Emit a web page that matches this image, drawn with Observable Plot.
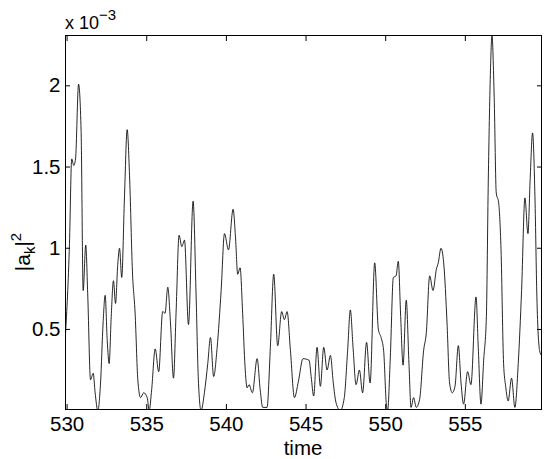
<!DOCTYPE html>
<html>
<head>
<meta charset="utf-8">
<script src="https://cdn.jsdelivr.net/npm/d3@7"></script>
<script src="https://cdn.jsdelivr.net/npm/@observablehq/plot@0.6"></script>
<style>
  html, body { margin: 0; padding: 0; background: #fff; }
</style>
</head>
<body>
<div id="chart"></div>
<script>
// time values
const time = [
  529.90, 530.15, 530.29, 530.42, 530.53, 530.72, 530.88, 531.01, 531.17, 531.30,
  531.47, 531.64, 531.76, 531.93, 532.10, 532.26, 532.39, 532.52, 532.64, 532.77,
  532.91, 533.04, 533.18, 533.29, 533.43, 533.60, 533.77, 533.93, 534.10, 534.27,
  534.44, 534.61, 534.81, 535.03, 535.15, 535.31, 535.53, 535.75, 536.00, 536.15,
  536.32, 536.49, 536.68, 536.84, 537.03, 537.20, 537.37, 537.62, 537.91, 538.10,
  538.24, 538.41, 538.62, 538.83, 539.00, 539.20, 539.42, 539.67, 539.88, 540.13,
  540.42, 540.57, 540.71, 540.86, 541.02, 541.17, 541.30, 541.42, 541.63, 541.93,
  542.12, 542.28, 542.55, 542.76, 542.97, 543.22, 543.47, 543.64, 543.81, 544.02,
  544.27, 544.52, 544.81, 545.19, 545.32, 545.48, 545.69, 545.90, 546.11, 546.32,
  546.53, 546.71, 546.88, 547.15, 547.40, 547.61, 547.78, 547.95, 548.14, 548.35,
  548.55, 548.80, 549.02, 549.31, 549.54, 549.71, 549.87, 550.04, 550.12, 550.29,
  550.48, 550.65, 550.79, 550.94, 551.09, 551.29, 551.46, 551.59, 551.75, 551.92,
  552.13, 552.38, 552.55, 552.76, 552.97, 553.18, 553.30, 553.47, 553.64, 553.85,
  554.01, 554.18, 554.35, 554.56, 554.73, 554.89, 555.14, 555.35, 555.67, 555.81,
  555.98, 556.15, 556.32, 556.44, 556.57, 556.67, 556.81, 556.94, 557.09, 557.24,
  557.40, 557.53, 557.69, 557.90, 558.11, 558.32, 558.53, 558.74, 558.93, 559.07,
  559.22, 559.37, 559.49, 559.66, 559.78
];
// |a_k|^2 in units of 1e-3
const ampE3 = [
  0.47, 1.03, 1.55, 1.51, 1.55, 2.01, 1.72, 0.74, 1.02, 0.70,
  0.19, 0.23, 0.11, 0.00, 0.17, 0.54, 0.71, 0.43, 0.29, 0.58,
  0.80, 0.66, 0.90, 1.00, 0.82, 1.31, 1.73, 1.42, 0.86, 0.60,
  0.19, 0.08, 0.11, 0.08, 0.00, 0.13, 0.38, 0.24, 0.61, 0.60,
  0.76, 0.54, 0.20, 0.60, 1.08, 1.01, 1.05, 0.53, 1.29, 0.70,
  0.19, 0.00, 0.11, 0.29, 0.45, 0.21, 0.39, 0.74, 1.09, 0.99,
  1.24, 1.07, 0.84, 0.88, 0.60, 0.27, 0.14, 0.16, 0.11, 0.32,
  0.13, 0.02, 0.02, 0.39, 0.84, 0.40, 0.61, 0.56, 0.61, 0.37,
  0.08, 0.18, 0.32, 0.31, 0.21, 0.09, 0.39, 0.15, 0.39, 0.25,
  0.34, 0.17, 0.05, 0.00, 0.08, 0.37, 0.62, 0.39, 0.16, 0.25,
  0.11, 0.42, 0.17, 0.91, 0.50, 0.45, 0.37, 0.04, 0.00, 0.33,
  0.82, 0.83, 0.92, 0.58, 0.28, 0.68, 0.29, 0.02, 0.08, 0.02,
  0.07, 0.37, 0.48, 0.83, 0.74, 0.87, 0.91, 1.00, 0.91, 0.54,
  0.17, 0.11, 0.15, 0.40, 0.17, 0.04, 0.24, 0.16, 0.70, 0.39,
  0.04, 0.31, 0.58, 1.42, 2.07, 2.31, 1.93, 1.34, 1.28, 0.99,
  0.29, 0.15, 0.06, 0.20, 0.02, 0.29, 0.74, 1.31, 1.09, 1.43,
  1.71, 1.31, 0.70, 0.37, 0.34
];
const xTicks = [530, 535, 540, 545, 550, 555];
const yTicks = [0.5, 1, 1.5, 2];
const yTickLabels = ["0.5", "1", "1.5", "2"];
const xDomain = [529.9, 559.78];
const yDomain = [0.007, 2.31];

const data = time.map((t, i) => ({t, v: ampE3[i]}));

const plot = Plot.plot({
  width: 545,
  height: 459,
  marginLeft: 65,
  marginRight: 4,
  marginTop: 35,
  marginBottom: 50,
  style: {fontFamily: "'Liberation Sans', Arial, sans-serif", fontSize: "20px", background: "#fff", color: "#000"},
  x: {domain: xDomain, label: null},
  y: {domain: yDomain, label: null},
  marks: [
    Plot.lineY(data, {x: "t", y: "v", stroke: "#000", strokeWidth: 0.85, curve: "monotone-x", clip: true}),
    Plot.frame({stroke: "#000", strokeWidth: 1}),
    Plot.axisX(xTicks, {anchor: "bottom", tickSize: 0, tickPadding: 7, fontSize: 20.5, tickFormat: d => String(d), label: null}),
    Plot.axisX(xTicks, {anchor: "bottom", tickSize: 5, text: null, dy: -5, label: null}),
    Plot.axisX(xTicks, {anchor: "top", tickSize: 5, text: null, dy: 5, label: null}),
    Plot.axisY(yTicks, {anchor: "left", tickSize: 0, tickPadding: 5, fontSize: 20.5, tickFormat: (d, i) => yTickLabels[i], label: null}),
    Plot.axisY(yTicks, {anchor: "left", tickSize: 5, text: null, dx: 5, label: null}),
    Plot.axisY(yTicks, {anchor: "right", tickSize: 5, text: null, dx: -5, label: null})
  ]
});

const svg = d3.select(plot);
const ff = "'Liberation Sans', Arial, sans-serif";

svg.append("text")
  .attr("x", 303).attr("y", 454.5)
  .attr("text-anchor", "middle")
  .attr("font-family", ff).attr("font-size", 20.5)
  .attr("fill", "#000")
  .text("time");

const yl = svg.append("text")
  .attr("transform", "translate(30,252) rotate(-90)")
  .attr("text-anchor", "middle")
  .attr("font-family", ff).attr("font-size", 21)
  .attr("fill", "#000");
yl.append("tspan").text("|a");
yl.append("tspan").attr("dy", 5).attr("font-size", 15).text("k");
yl.append("tspan").attr("dy", -5).text("|");
yl.append("tspan").attr("dy", -9).attr("font-size", 15).text("2");

const ex = svg.append("text")
  .attr("x", 65).attr("y", 29)
  .attr("text-anchor", "start")
  .attr("font-family", ff).attr("font-size", 18)
  .attr("fill", "#000");
ex.append("tspan").text("x 10");
ex.append("tspan").attr("dy", -9).attr("font-size", 15).text("\u22123");

document.getElementById("chart").appendChild(plot);
</script>
</body>
</html>
